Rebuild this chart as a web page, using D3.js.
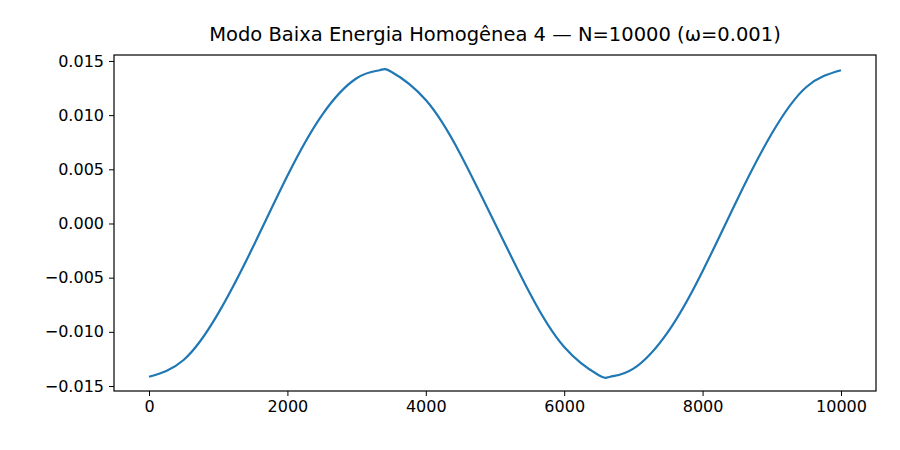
<!DOCTYPE html>
<html><head><meta charset="utf-8">
<script src="https://cdn.jsdelivr.net/npm/d3@7"></script>
<style>body{margin:0;background:#fff} text{font-family:"DejaVu Sans",sans-serif}</style>
</head><body>
<svg id="c" width="900" height="450"></svg>
<script>
// values
var xs = [0,500,1000,1500,2000,2500,3000,3333,3500,4000,4500,5000,5500,6000,6500,6667,7000,7500,8000,8500,9000,9500,10000];
var ys = [-0.01414,-0.0126,-0.0083,-0.0022,0.0044,0.0100,0.0134,0.01414,0.0140,0.0114,0.0064,0,-0.0064,-0.0114,-0.0140,-0.01414,-0.0134,-0.0100,-0.0044,0.0022,0.0083,0.0126,0.01414];
var xTicks = [0,2000,4000,6000,8000,10000];
var yTicks = [-0.015,-0.010,-0.005,0,0.005,0.010,0.015];

var svg = d3.select("#c");
var L = 114, R = 876, T = 55, B = 391;
var x = d3.scaleLinear().domain([-506, 10506]).range([L, R]);
var y = d3.scaleLinear().domain([-0.01546, 0.01555]).range([B, T]);
var fmt = function(d){ return d3.format(".3f")(d).replace("-", "\u2212"); };

svg.append("g").attr("transform", "translate(0," + B + ")")
  .call(d3.axisBottom(x).tickValues(xTicks).tickFormat(d3.format("d")).tickSize(5).tickPadding(5))
  .call(function(g){ g.select(".domain").remove(); g.selectAll("text").attr("font-size", 16).attr("fill", "#000"); });
svg.append("g").attr("transform", "translate(" + L + ",0)")
  .call(d3.axisLeft(y).tickValues(yTicks).tickFormat(fmt).tickSize(5).tickPadding(5))
  .call(function(g){ g.select(".domain").remove(); g.selectAll("text").attr("font-size", 16).attr("fill", "#000"); });

svg.append("rect").attr("x", L).attr("y", T).attr("width", R - L).attr("height", B - T)
  .attr("fill", "none").attr("stroke", "#000").attr("stroke-width", 1.2);

var line = d3.line().x(function(d, i){ return x(xs[i]); }).y(function(d){ return y(d); }).curve(d3.curveNatural);
svg.append("path").datum(ys).attr("d", line).attr("fill", "none").attr("stroke", "#1f77b4").attr("stroke-width", 2.2);

svg.append("text").attr("x", (L + R) / 2).attr("y", 41).attr("text-anchor", "middle").attr("font-size", 19.5)
  .text("Modo Baixa Energia Homogênea 4 — N=10000 (ω=0.001)");
</script>
</body></html>
